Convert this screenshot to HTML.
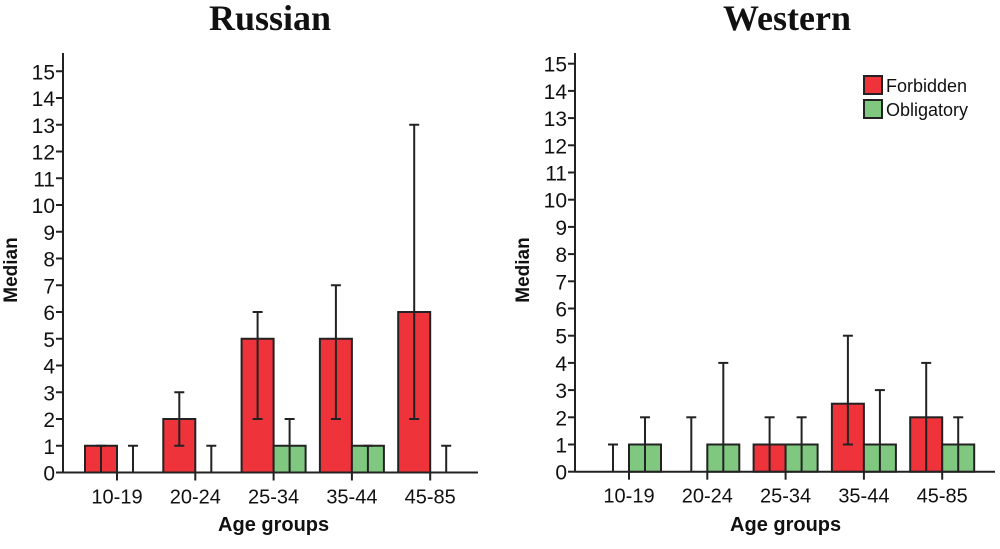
<!DOCTYPE html>
<html><head><meta charset="utf-8"><style>
body{margin:0;background:#fff;}
svg text{font-family:"Liberation Sans",sans-serif;fill:#111;}
</style></head><body>
<svg id="c" width="1000" height="544" xmlns="http://www.w3.org/2000/svg"></svg>
<script>
const categories = ["10-19","20-24","25-34","35-44","45-85"];
const yTicks = [0,1,2,3,4,5,6,7,8,9,10,11,12,13,14,15];
const rusForbidden = [1,2,5,5,6];
const rusForbiddenLow = [0,1,2,2,2];
const rusForbiddenHigh = [1,3,6,7,13];
const rusObligatory = [0,0,1,1,0];
const rusObligatoryLow = [0,0,0,0,0];
const rusObligatoryHigh = [1,1,2,1,1];
const wesForbidden = [0,0,1,2.5,2];
const wesForbiddenLow = [0,0,0,1,0];
const wesForbiddenHigh = [1,2,2,5,4];
const wesObligatory = [1,1,1,1,1];
const wesObligatoryLow = [0,0,0,0,0];
const wesObligatoryHigh = [2,4,2,3,2];

const NS="http://www.w3.org/2000/svg";
const svg=document.getElementById('c');
function mk(tag,attrs,parent){const e=document.createElementNS(NS,tag);for(const k in attrs)e.setAttribute(k,attrs[k]);(parent||svg).appendChild(e);return e;}

function panel(p){
  const g=mk('g',{});
  
  
  const y=v=>p.y0-v*p.unit;
  const x=i=>p.cx0+i*p.step;
  const t=mk('text',{x:p.titleX,y:30,'text-anchor':'middle','font-size':36,'font-weight':'bold',style:'font-family:"Liberation Serif",serif'},g);
  t.textContent=p.title;
  
  
  const ya=mk('line',{x1:p.ax,y1:53,x2:p.ax,y2:p.y0,stroke:'#222','stroke-width':2},g);
  
  
  const xa=mk('line',{x1:p.ax,y1:p.y0,x2:p.xEnd,y2:p.y0,stroke:'#222','stroke-width':2},g);
  
  
  yTicks.forEach(v=>{
    mk('line',{x1:p.ax-7,y1:y(v),x2:p.ax,y2:y(v),stroke:'#222','stroke-width':2},g);
    const tl=mk('text',{x:p.ax-8,y:y(v)+8,'text-anchor':'end','font-size':21},g);
    tl.textContent=v;
    
    
  });
  const yl=mk('text',{x:0,y:0,'text-anchor':'middle','font-size':19,'font-weight':'bold',transform:`translate(${p.ax-46},270) rotate(-90)`},g);
  yl.textContent='Median';
  
  
  const xl=mk('text',{x:p.cx0+2*p.step,y:531,'text-anchor':'middle','font-size':20,'font-weight':'bold'},g);
  xl.textContent='Age groups';
  
  
  const bw=32;
  categories.forEach((c,i)=>{
    const cx=x(i);
    mk('line',{x1:cx,y1:p.y0,x2:cx,y2:p.y0+8,stroke:'#222','stroke-width':2},g);
    const cl=mk('text',{x:cx,y:p.y0+31,'text-anchor':'middle','font-size':20},g);
    cl.textContent=c;
    
    
    [[p.f,p.fl,p.fh,'#ee333b',-1,'forbidden'],[p.o,p.ol,p.oh,'#80c880',0,'obligatory']].forEach(s=>{
      const v=s[0][i],bx=cx+s[4]*bw;
      if(v>0){
        const r=mk('rect',{x:bx,y:y(v),width:bw,height:p.y0-y(v),fill:s[3],stroke:'#222','stroke-width':2},g);
        
        
      }
      const ex=bx+bw/2,lo=s[1][i],hi=s[2][i];
      const el=mk('line',{x1:ex,y1:y(lo),x2:ex,y2:y(hi),stroke:'#222','stroke-width':2},g);
      
      
      mk('line',{x1:ex-5,y1:y(hi),x2:ex+5,y2:y(hi),stroke:'#222','stroke-width':2},g);
      if(lo>0) mk('line',{x1:ex-5,y1:y(lo),x2:ex+5,y2:y(lo),stroke:'#222','stroke-width':2},g);
    });
  });
}
panel({name:'russian',title:'Russian',titleX:270,ax:63,xEnd:478,y0:472.5,unit:26.75,cx0:117,step:78.3,f:rusForbidden,fl:rusForbiddenLow,fh:rusForbiddenHigh,o:rusObligatory,ol:rusObligatoryLow,oh:rusObligatoryHigh});
panel({name:'western',title:'Western',titleX:787,ax:575,xEnd:995,y0:471.7,unit:27.2,cx0:629,step:78.3,f:wesForbidden,fl:wesForbiddenLow,fh:wesForbiddenHigh,o:wesObligatory,ol:wesObligatoryLow,oh:wesObligatoryHigh});

const lg=mk('g',{});


[['Forbidden','#ee333b',76],['Obligatory','#80c880',100]].forEach(l=>{
  const r=mk('rect',{x:864,y:l[2],width:18,height:18,fill:l[1],stroke:'#222','stroke-width':2},lg);
  
  
  const t=mk('text',{x:886,y:l[2]+16,'font-size':18},lg);
  t.textContent=l[0];
  
  
});
</script>
</body></html>
